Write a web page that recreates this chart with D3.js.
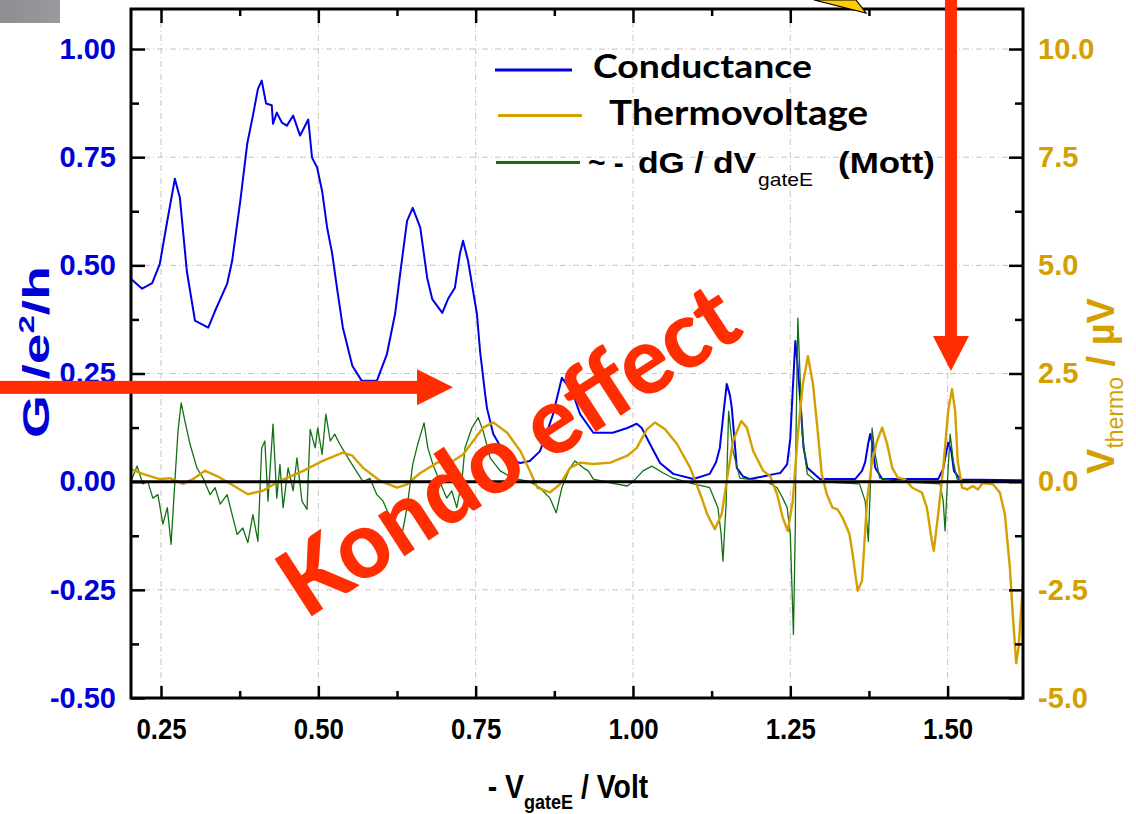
<!DOCTYPE html>
<html><head><meta charset="utf-8">
<script src="https://cdn.jsdelivr.net/npm/d3@7"></script>
<style>body{margin:0;background:#fff;} svg{display:block;}</style>
</head><body>
<svg id="c" width="1136" height="814"></svg>
<script>
// ---------------- DATA ----------------
// Conductance G (e^2/h) vs -V_gateE (Volt)
const condV = [0.202,0.220,0.236,0.248,0.260,0.272,0.280,0.291,0.304,0.325,0.336,0.355,0.363,0.376,0.387,0.396,0.404,0.410,0.417,0.426,0.428,0.434,0.442,0.450,0.460,0.471,0.484,0.490,0.498,0.506,0.514,0.522,0.531,0.539,0.554,0.569,0.593,0.609,0.622,0.630,0.641,0.650,0.662,0.673,0.681,0.697,0.706,0.717,0.725,0.730,0.738,0.752,0.757,0.765,0.768,0.778,0.800,0.821,0.836,0.852,0.860,0.873,0.887,0.903,0.916,0.937,0.968,0.991,1.006,1.014,1.027,1.043,1.064,1.096,1.122,1.132,1.138,1.144,1.149,1.154,1.157,1.165,1.175,1.186,1.226,1.234,1.245,1.250,1.253,1.258,1.261,1.266,1.271,1.277,1.297,1.353,1.364,1.369,1.374,1.377,1.380,1.385,1.396,1.485,1.493,1.498,1.501,1.506,1.510,1.520,1.620];
const condG = [0.469,0.446,0.459,0.503,0.603,0.700,0.656,0.487,0.372,0.356,0.395,0.457,0.510,0.649,0.781,0.846,0.908,0.927,0.874,0.870,0.827,0.853,0.830,0.823,0.846,0.800,0.837,0.749,0.726,0.672,0.587,0.527,0.434,0.356,0.268,0.233,0.233,0.295,0.388,0.480,0.603,0.633,0.587,0.471,0.422,0.390,0.422,0.448,0.527,0.557,0.510,0.388,0.302,0.203,0.170,0.110,0.055,0.043,0.048,0.070,0.100,0.156,0.240,0.210,0.156,0.113,0.113,0.124,0.134,0.124,0.087,0.043,0.018,0.006,0.018,0.045,0.078,0.160,0.226,0.200,0.171,0.032,0.012,0.006,0.018,0.020,0.040,0.100,0.187,0.325,0.280,0.187,0.080,0.032,0.006,0.006,0.025,0.045,0.090,0.110,0.090,0.032,0.006,0.006,0.030,0.070,0.090,0.070,0.025,0.005,0.003];

// ~ -dG/dV_gateE (Mott), plotted on the left axis
const mottV = [0.202,0.212,0.221,0.229,0.237,0.245,0.253,0.260,0.266,0.272,0.277,0.282,0.288,0.296,0.307,0.317,0.328,0.336,0.344,0.355,0.363,0.371,0.380,0.388,0.396,0.404,0.410,0.415,0.420,0.428,0.434,0.439,0.444,0.452,0.460,0.466,0.474,0.482,0.487,0.495,0.499,0.506,0.512,0.519,0.526,0.534,0.550,0.571,0.582,0.593,0.603,0.614,0.625,0.633,0.641,0.650,0.658,0.668,0.674,0.682,0.693,0.704,0.712,0.720,0.728,0.733,0.744,0.754,0.762,0.773,0.789,0.809,0.836,0.852,0.868,0.878,0.887,0.900,0.908,0.921,0.929,0.937,0.964,0.991,1.000,1.016,1.030,1.048,1.064,1.096,1.122,1.135,1.140,1.143,1.148,1.152,1.159,1.170,1.213,1.229,1.238,1.245,1.250,1.255,1.258,1.259,1.262,1.269,1.277,1.292,1.360,1.369,1.374,1.378,1.380,1.384,1.392,1.424,1.488,1.493,1.496,1.499,1.504,1.509,1.515,1.536,1.620];
const mottG = [0.000,0.036,-0.005,0.000,-0.038,-0.030,-0.098,-0.060,-0.145,0.000,0.117,0.182,0.140,0.087,0.032,0.008,-0.030,-0.014,-0.052,-0.030,-0.076,-0.122,-0.107,-0.141,-0.076,-0.138,0.078,0.094,-0.045,0.133,-0.038,0.040,-0.060,0.032,-0.021,0.055,-0.045,-0.064,0.121,0.078,0.124,0.063,0.156,0.094,0.110,0.087,0.048,0.000,0.008,-0.030,-0.045,-0.084,-0.114,-0.122,-0.060,0.040,0.087,0.136,0.078,0.040,0.000,-0.038,-0.021,-0.060,0.000,0.078,0.124,0.148,0.117,0.055,0.025,0.008,0.000,-0.014,-0.038,-0.072,-0.014,0.032,0.048,0.032,0.025,0.006,-0.003,-0.010,0.000,0.025,0.036,0.020,0.008,-0.005,-0.014,-0.060,-0.120,-0.184,-0.050,0.163,0.070,0.008,0.000,-0.014,-0.038,-0.060,-0.122,-0.353,-0.100,0.100,0.378,0.110,0.018,0.000,-0.005,-0.045,-0.138,0.020,0.124,0.070,0.008,0.000,-0.005,-0.045,-0.114,-0.020,0.110,0.048,0.006,0.000,0.000];

// Thermovoltage (µV), right axis
const thermoV = [0.202,0.221,0.248,0.264,0.285,0.301,0.320,0.339,0.360,0.388,0.412,0.439,0.476,0.507,0.539,0.554,0.571,0.598,0.625,0.641,0.662,0.689,0.714,0.730,0.746,0.762,0.778,0.800,0.821,0.836,0.848,0.868,0.884,0.900,0.916,0.937,0.964,0.991,1.006,1.022,1.035,1.051,1.070,1.091,1.107,1.118,1.130,1.141,1.149,1.159,1.172,1.181,1.191,1.207,1.218,1.229,1.238,1.246,1.254,1.262,1.270,1.278,1.286,1.294,1.300,1.308,1.317,1.325,1.333,1.344,1.349,1.357,1.364,1.372,1.380,1.388,1.396,1.404,1.412,1.421,1.432,1.444,1.459,1.467,1.475,1.478,1.485,1.493,1.501,1.507,1.512,1.516,1.523,1.531,1.540,1.548,1.556,1.572,1.583,1.591,1.599,1.604,1.609,1.613,1.620];
const thermoU = [0.29,0.18,0.06,0.08,-0.05,0.06,0.25,0.13,-0.05,-0.29,-0.21,0.02,0.25,0.48,0.67,0.60,0.32,0.02,-0.14,-0.06,0.20,0.44,0.48,0.63,0.94,1.25,1.37,1.13,0.71,0.25,-0.14,-0.25,-0.06,0.32,0.44,0.41,0.44,0.60,0.78,1.21,1.37,1.21,0.87,0.32,-0.29,-0.75,-1.10,-0.75,0.02,0.94,1.40,1.25,0.71,0.25,0.13,-0.29,-0.83,-1.14,-0.44,1.10,2.26,2.90,2.26,1.10,0.18,-0.29,-0.60,-0.64,-0.83,-1.21,-1.67,-2.52,-2.29,-0.44,0.48,0.94,1.25,0.87,0.32,0.09,0.06,-0.14,-0.25,-0.60,-1.37,-1.60,-0.75,0.32,1.64,2.14,1.64,0.48,-0.14,-0.18,-0.10,-0.18,-0.03,-0.06,-0.25,-0.75,-2.00,-3.16,-4.20,-3.80,-2.26];

const xTicks = [0.25, 0.50, 0.75, 1.00, 1.25, 1.50];
const xMinor = [0.375, 0.625, 0.875, 1.125, 1.375];
const leftTicks = [-0.50, -0.25, 0.00, 0.25, 0.50, 0.75, 1.00];
const leftMinor = [-0.375, -0.125, 0.125, 0.375, 0.625, 0.875];
const rightTicks = [-5.0, -2.5, 0.0, 2.5, 5.0, 7.5, 10.0];
const rightMinor = [-3.75, -1.25, 1.25, 3.75, 6.25, 8.75];
const legendLabels = ["Conductance", "Thermovoltage"];

// ---------------- LAYOUT ----------------
const L = 131, R = 1023, T = 9, B = 698;
const svg = d3.select("#c");
const x = d3.scaleLinear().domain([0.2023, 1.6198]).range([L, R]);
const yL = d3.scaleLinear().domain([-0.5, 1.0925]).range([B, T]);
const yR = d3.scaleLinear().domain([-5, 10.925]).range([B, T]);

const BLUE = "#0000e6", GOLD = "#d4a000", GREEN = "#157015", RED = "#ff2d00";
const LBLUE = "#0000d8";

// grid
const grid = svg.append("g").attr("stroke", "#c4c4c4").attr("stroke-width", 1)
  .attr("stroke-dasharray", "6,3,1,3");
grid.selectAll("line.v").data(xTicks).join("line")
  .attr("x1", d => x(d)).attr("x2", d => x(d)).attr("y1", T).attr("y2", B);
grid.selectAll("line.h").data(leftTicks.filter(d => d !== 0 && d !== -0.5)).join("line")
  .attr("x1", L).attr("x2", R).attr("y1", d => yL(d)).attr("y2", d => yL(d));

// clip
svg.append("clipPath").attr("id", "clip").append("rect")
  .attr("x", L).attr("y", T).attr("width", R - L).attr("height", B - T);

const plot = svg.append("g").attr("clip-path", "url(#clip)");
const lineL = d3.line().x(d => x(d[0])).y(d => yL(d[1]));
const lineR = d3.line().x(d => x(d[0])).y(d => yR(d[1]));

plot.append("path").datum(d3.zip(condV, condG)).attr("d", lineL)
  .attr("fill", "none").attr("stroke", BLUE).attr("stroke-width", 2).attr("stroke-linejoin", "round");
plot.append("path").datum(d3.zip(mottV, mottG)).attr("d", lineL)
  .attr("fill", "none").attr("stroke", GREEN).attr("stroke-width", 1.3).attr("stroke-linejoin", "round");
plot.append("path").datum(d3.zip(thermoV, thermoU)).attr("d", lineR)
  .attr("fill", "none").attr("stroke", GOLD).attr("stroke-width", 2.4).attr("stroke-linejoin", "round");

// zero line
svg.append("line").attr("x1", L).attr("x2", R).attr("y1", yL(0)).attr("y2", yL(0))
  .attr("stroke", "#000").attr("stroke-width", 3);

// axes
function styleAxis(g) { g.select(".domain").remove(); g.selectAll(".tick line").attr("stroke", "#000").attr("stroke-width", 2.5); }
const fmt2 = d => d.toFixed(2), fmt1 = d => d.toFixed(1);
const ff = "'Liberation Sans', Arial, sans-serif";

svg.append("g").attr("transform", `translate(${L},0)`)
  .call(d3.axisLeft(yL).tickValues(leftTicks).tickSize(-14).tickPadding(15).tickFormat(fmt2))
  .call(styleAxis)
  .call(g => g.selectAll("text").attr("fill", LBLUE).attr("font-family", ff)
    .attr("font-weight", "bold").attr("font-size", 29));
svg.append("g").attr("transform", `translate(${L},0)`)
  .call(d3.axisLeft(yL).tickValues(leftMinor).tickSize(-8).tickFormat(""))
  .call(styleAxis);

svg.append("g").attr("transform", `translate(${R},0)`)
  .call(d3.axisRight(yR).tickValues(rightTicks).tickSize(-14).tickPadding(15).tickFormat(fmt1))
  .call(styleAxis)
  .call(g => g.selectAll("text").attr("fill", GOLD).attr("font-family", ff)
    .attr("font-weight", "bold").attr("font-size", 29));
svg.append("g").attr("transform", `translate(${R},0)`)
  .call(d3.axisRight(yR).tickValues(rightMinor).tickSize(-8).tickFormat(""))
  .call(styleAxis);

svg.append("g").attr("transform", `translate(0,${B})`)
  .call(d3.axisBottom(x).tickValues(xTicks).tickSize(-12).tickPadding(20).tickFormat(fmt2))
  .call(styleAxis)
  .call(g => g.selectAll("text").attr("fill", "#000").attr("font-family", ff)
    .attr("font-weight", "bold").attr("font-size", 30).attr("transform", "scale(0.86,1)"));
svg.append("g").attr("transform", `translate(0,${B})`)
  .call(d3.axisBottom(x).tickValues(xMinor).tickSize(-7).tickFormat(""))
  .call(styleAxis);

svg.append("g").attr("transform", `translate(0,${T})`)
  .call(d3.axisTop(x).tickValues(xTicks).tickSize(-14).tickFormat(""))
  .call(styleAxis);
svg.append("g").attr("transform", `translate(0,${T})`)
  .call(d3.axisTop(x).tickValues(xMinor).tickSize(-7).tickFormat(""))
  .call(styleAxis);

// frame
svg.append("rect").attr("x", L).attr("y", T).attr("width", R - L).attr("height", B - T)
  .attr("fill", "none").attr("stroke", "#000").attr("stroke-width", 3);

// axis titles
const lt = svg.append("text").attr("transform", "translate(49,352) rotate(-90)")
  .attr("text-anchor", "middle").attr("fill", LBLUE).attr("font-family", ff)
  .attr("font-weight", "bold").attr("font-size", 37)
  .attr("textLength", 172).attr("lengthAdjust", "spacingAndGlyphs");
lt.append("tspan").text("G /e");
lt.append("tspan").attr("font-size", 22).attr("dy", -15).text("2");
lt.append("tspan").attr("dy", 15).text("/h");

const rt = svg.append("text").attr("transform", "translate(1114,386) rotate(-90)")
  .attr("text-anchor", "middle").attr("fill", GOLD).attr("font-family", ff)
  .attr("font-weight", "bold").attr("font-size", 38);
rt.append("tspan").text("V");
rt.append("tspan").attr("font-size", 23).attr("font-weight", "normal").attr("dy", 9).text("thermo");
rt.append("tspan").attr("dy", -9).text(" / µV");

const xt = svg.append("g").attr("transform", "translate(568,798) scale(0.86,1)")
  .append("text").attr("text-anchor", "middle").attr("fill", "#000").attr("font-family", ff)
  .attr("font-weight", "bold").attr("font-size", 33);
xt.append("tspan").text("- V");
xt.append("tspan").attr("font-size", 21).attr("dy", 11).text("gateE");
xt.append("tspan").attr("dy", -11).text(" / Volt");

// legend
const comic = "'Comic Sans MS', 'Lato', 'DejaVu Sans', sans-serif";
const leg = svg.append("g");
[[BLUE, 495, 572, 70], [GOLD, 498, 582, 115.5], [GREEN, 496, 580, 162.5]].forEach(([c, x1, x2, y]) => {
  leg.append("line").attr("x1", x1).attr("x2", x2).attr("y1", y).attr("y2", y)
    .attr("stroke", c).attr("stroke-width", 3);
});
leg.append("text").attr("x", 593).attr("y", 78).attr("font-family", comic).attr("font-weight", "bold")
  .attr("font-size", 33).attr("textLength", 219).attr("lengthAdjust", "spacingAndGlyphs").text(legendLabels[0]);
leg.append("text").attr("x", 609).attr("y", 125).attr("font-family", comic).attr("font-weight", "bold")
  .attr("font-size", 34).attr("textLength", 259).attr("lengthAdjust", "spacingAndGlyphs").text(legendLabels[1]);
const lgs = leg.append("g").attr("font-family", ff).attr("font-weight", "bold").attr("fill", "#000");
lgs.append("text").attr("x", 588).attr("y", 173).attr("font-size", 30).text("~ -");
lgs.append("text").attr("x", 638).attr("y", 173).attr("font-size", 30)
  .attr("textLength", 118).attr("lengthAdjust", "spacingAndGlyphs").text("dG / dV");
lgs.append("text").attr("x", 758).attr("y", 186).attr("font-size", 19).attr("font-weight", "normal")
  .attr("textLength", 55).attr("lengthAdjust", "spacingAndGlyphs").text("gateE");
lgs.append("text").attr("x", 838).attr("y", 173).attr("font-size", 30)
  .attr("textLength", 97).attr("lengthAdjust", "spacingAndGlyphs").text("(Mott)");

// decorations
const grad = svg.append("defs").append("linearGradient").attr("id", "gbox").attr("x1", 0).attr("x2", 1);
grad.append("stop").attr("offset", 0).attr("stop-color", "#8c8e92");
grad.append("stop").attr("offset", 1).attr("stop-color", "#989a9e");
svg.append("rect").attr("x", 0).attr("y", 0).attr("width", 60).attr("height", 23).attr("fill", "url(#gbox)");
svg.append("polygon").attr("points", "814,0 856,0 866,13").attr("fill", "#ffcc00")
  .attr("stroke", "#000").attr("stroke-width", 1.2);

// red arrows (positioned in data coordinates)
const hy = yL(0.218), hx = x(0.714);
svg.append("rect").attr("x", 0).attr("y", hy - 6.5).attr("width", hx - 35).attr("height", 13).attr("fill", RED);
svg.append("polygon").attr("points", `${hx - 36},${hy - 18} ${hx},${hy} ${hx - 36},${hy + 18}`).attr("fill", RED);
const vx = x(1.5053), vy = yR(2.56);
svg.append("rect").attr("x", vx - 6).attr("y", 0).attr("width", 12).attr("height", vy - 34).attr("fill", RED);
svg.append("polygon").attr("points", `${vx - 18},${vy - 35} ${vx + 18},${vy - 35} ${vx},${vy}`).attr("fill", RED);

// Kondo effect
svg.append("text").attr("transform", "translate(306,620) rotate(-33)")
  .attr("fill", RED).attr("font-family", comic).attr("font-weight", "900").attr("font-size", 94)
  .attr("textLength", 525).attr("lengthAdjust", "spacingAndGlyphs").text("Kondo effect");
</script>
</body></html>
